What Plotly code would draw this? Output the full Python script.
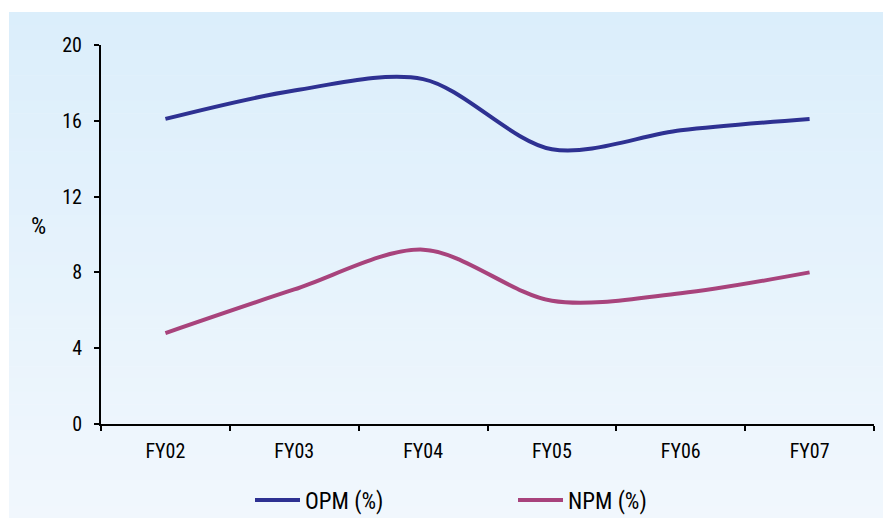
import plotly.graph_objects as go

categories = ["FY02", "FY03", "FY04", "FY05", "FY06", "FY07"]
opm = [16.1, 17.6, 18.2, 14.5, 15.5, 16.1]
npm = [4.8, 7.1, 9.2, 6.5, 6.9, 8.0]
y_ticks = [0, 4, 8, 12, 16, 20]

W, H = 883, 518
L, R, T, B = 101, 9, 45, 94
pw, ph = W - L - R, H - T - B

def px_x(px):
    return (px - L) / pw

def px_y(py):
    return (H - B - py) / ph

FONT = "Roboto Condensed, Liberation Sans Narrow, sans-serif"

fig = go.Figure()
fig.add_trace(go.Scatter(x=categories, y=opm, mode="lines", name="OPM (%)",
                         line=dict(color="#2e3192", width=4, shape="spline", smoothing=0.9)))
fig.add_trace(go.Scatter(x=categories, y=npm, mode="lines", name="NPM (%)",
                         line=dict(color="#a8437c", width=4, shape="spline", smoothing=0.9)))

# gradient background bands
shapes = []
n = 40
top_c = (219, 238, 251)
bot_c = (241, 247, 253)
y0p, y1p = 12, H
for i in range(n):
    a = y0p + (y1p - y0p) * i / n
    b = y0p + (y1p - y0p) * (i + 1) / n
    t = i / (n - 1)
    c = tuple(round(top_c[k] + (bot_c[k] - top_c[k]) * t) for k in range(3))
    shapes.append(dict(type="rect", xref="paper", yref="paper", layer="below",
                       x0=px_x(9), x1=px_x(W + 2), y0=px_y(b + 0.6), y1=px_y(a),
                       fillcolor="rgb(%d,%d,%d)" % c, line=dict(width=0)))

fig.update_layout(
    width=W, height=H,
    margin=dict(l=L, r=R, t=T, b=B, autoexpand=False),
    paper_bgcolor="white", plot_bgcolor="rgba(0,0,0,0)",
    shapes=shapes,
    font=dict(family=FONT, size=20, color="black"),
    showlegend=True,
    legend=dict(orientation="h", x=px_x(250), xanchor="left", y=px_y(500), yanchor="middle",
                font=dict(family=FONT, size=23, color="black"),
                bgcolor="rgba(0,0,0,0)", itemwidth=45, tracegroupgap=0,
                entrywidthmode="pixels", entrywidth=203),
    annotations=[dict(text="%", xref="paper", yref="paper", x=px_x(38), y=px_y(226),
                      showarrow=False, xanchor="center", yanchor="middle",
                      font=dict(family=FONT, size=24, color="black"))],
)
fig.update_xaxes(type="category", showline=True, linecolor="black", linewidth=2,
                 ticks="outside", tickson="boundaries", ticklen=5, tickwidth=2,
                 tickcolor="black", showgrid=False, zeroline=False, ticklabelstandoff=8,
                 tickfont=dict(family=FONT, size=20), range=[-0.5, 5.5])
fig.update_yaxes(range=[0, 20], tickvals=y_ticks, showline=True, linecolor="black",
                 linewidth=2, ticks="outside", ticklen=5, tickwidth=2, tickcolor="black",
                 showgrid=False, zeroline=False, ticklabelstandoff=8,
                 tickfont=dict(family=FONT, size=20))

fig.write_html("out.html", config={"displayModeBar": False},
               post_script="document.body.style.margin='0';document.body.style.overflow='hidden';")
